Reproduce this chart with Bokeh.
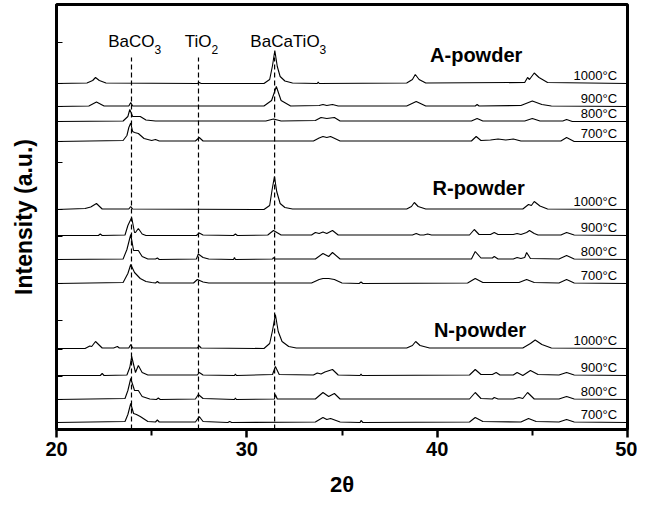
from bokeh.plotting import figure
from bokeh.models import Range1d, FixedTicker, ColumnDataSource
from bokeh.core.properties import value
from bokeh.embed import file_html
from bokeh.resources import INLINE

# ---------------- data ----------------
powders = ["A-powder", "R-powder", "N-powder"]
temps = ["1000°C", "900°C", "800°C", "700°C"]
# vertical stacking offset of each pattern (a.u.)
offsets_A = [346, 323, 308, 288]
offsets_R = [220, 194, 170, 146]
offsets_N = [81, 54, 30, 7]

phase_names = ["BaCO", "TiO", "BaCaTiO"]
phase_subs = ["3", "2", "3"]
phase_2theta = [23.94, 27.46, 31.46]

x_ticks = [20, 30, 40, 50]
x_minor_ticks = [25, 35, 45]
y_ticks = [387, 346, 323, 308, 288, 267, 220, 193, 170, 146, 109, 80, 53, 30]

# A-powder
a1000_x = [20, 21.6, 21.9, 22.05, 22.25, 22.6, 27.4, 27.5, 27.6, 30.9, 31.2, 31.35, 31.47, 31.6, 31.75, 32.0, 32.4, 33.7, 33.75, 33.8, 38.4, 38.7, 38.85, 39.05, 39.4, 44.6, 44.75, 44.85, 45.1, 45.35, 45.8, 50]
a1000_y = [0, 0.5, 3, 6, 3, 0.5, 0, 1, 0, 0, 4, 18, 33, 17, 7, 2.5, 0.5, 0, 1.5, 0, 0.5, 4, 9, 4, 0.5, 1, 6, 4, 10.5, 6, 1, 0]
a900_x = [20, 21.7, 22.1, 22.5, 23.8, 23.9, 24.0, 30.9, 31.3, 31.55, 31.8, 32.3, 33.8, 34.0, 34.2, 34.5, 34.8, 38.4, 38.9, 39.4, 42.0, 42.1, 42.2, 44.4, 45.0, 45.5, 46.0, 50]
a900_y = [0, 0.5, 4.5, 0.5, 0.5, 4, 0.5, 0.5, 6, 20, 6, 0.5, 1, 2, 1, 2, 0.5, 0.5, 5, 0.5, 0.5, 2, 0.5, 1, 5.5, 2, 0.5, 0]
a800_x = [20, 23.5, 23.75, 23.85, 24.0, 24.15, 24.4, 24.7, 25.2, 27.4, 27.6, 31.0, 31.4, 31.8, 33.6, 33.9, 34.2, 34.6, 34.9, 41.8, 42.1, 42.4, 44.6, 45.0, 45.4, 46.6, 46.8, 47.1, 50]
a800_y = [0, 0.5, 5, 12, 5, 5, 5, 1.5, 0.5, 0.5, 0.5, 0.5, 2.5, 0.5, 1, 4, 3, 4, 0.5, 0.5, 3, 0.5, 0.5, 3, 0.5, 0.5, 2, 0, 0]
a700_x = [20, 23.5, 23.7, 23.8, 23.9, 24.0, 24.1, 24.3, 24.6, 25.0, 25.2, 25.4, 27.3, 27.5, 27.7, 33.5, 33.8, 34.0, 34.2, 34.4, 34.9, 41.8, 42.05, 42.3, 42.8, 43.2, 43.6, 44.0, 44.4, 46.5, 46.8, 47.2, 50]
a700_y = [0, 1, 6, 14, 18.5, 10, 9, 8, 3, 1, 2, 0.5, 0.5, 4, 0.5, 0.5, 3.5, 5, 4, 5, 0.5, 0.5, 5, 1, 1.5, 2.5, 1.5, 2.5, 0.5, 0.5, 4, 0, 0]

# R-powder
r1000_x = [20, 21.5, 21.8, 22.1, 22.4, 23.8, 23.9, 24.0, 30.9, 31.2, 31.33, 31.45, 31.57, 31.75, 32.0, 32.4, 38.4, 38.65, 38.8, 39.0, 39.4, 44.5, 44.8, 44.95, 45.1, 45.4, 45.8, 50]
r1000_y = [0, 1, 2.5, 6, 0.5, 0.5, 3, 0.5, 0, 4, 20, 33, 18, 6, 2, 0.5, 0.5, 3, 7, 3, 0.5, 0.5, 5, 4, 8, 3.5, 0.5, 0]
r900_x = [20, 22.2, 22.3, 22.4, 23.6, 23.75, 23.95, 24.1, 24.15, 24.3, 24.5, 24.7, 27.35, 27.5, 27.7, 29.3, 29.4, 29.5, 31.1, 31.4, 31.8, 33.4, 33.6, 33.8, 34.0, 34.2, 34.5, 34.8, 38.7, 38.9, 39.1, 39.3, 39.5, 39.7, 41.7, 41.95, 42.2, 42.8, 43.0, 43.2, 44.0, 44.2, 44.4, 44.7, 44.85, 45.1, 45.3, 46.5, 46.8, 47.2, 50]
r900_y = [0, 0, 1.5, 0, 0.5, 10, 18, 3, 3, 7, 1.5, 0, 0, 2.5, 0.5, 0, 1.5, 0, 0.5, 5, 0.5, 0.5, 3, 2, 3.5, 2, 5, 0.5, 0.5, 2, 0.5, 0.5, 1.5, 0.5, 0.5, 6, 1, 1, 3, 1, 1, 2, 1, 3, 5, 2, 0.5, 0.5, 3, 0.5, 0]
r800_x = [20, 23.5, 23.7, 23.9, 24.05, 24.15, 24.3, 24.5, 24.8, 25.2, 25.3, 25.4, 27.35, 27.45, 27.7, 28.0, 29.3, 29.35, 29.4, 31.35, 31.4, 31.45, 33.6, 34.0, 34.3, 34.5, 34.9, 41.8, 42.0, 42.3, 42.9, 43.0, 43.2, 44.0, 44.2, 44.4, 44.6, 44.7, 44.9, 46.4, 46.8, 47.2, 50]
r800_y = [0, 0.5, 10, 25, 9, 9, 9, 3, 0.5, 0.5, 1.5, 0, 0.5, 5.5, 2, 0.5, 0, 2, 0, 0.5, 2, 0.5, 0.5, 6, 3, 7, 0.5, 0.5, 8, 1.5, 1.5, 3, 0.5, 0.5, 2, 1, 2, 7, 1, 0.5, 4, 0.5, 0]
r700_x = [20, 23.5, 23.75, 23.9, 24.1, 24.4, 24.7, 25.0, 25.2, 25.3, 25.4, 27.2, 27.4, 27.7, 28.0, 33.4, 33.8, 34.0, 34.3, 34.6, 35.0, 35.9, 36.0, 36.1, 41.6, 42.0, 42.4, 44.3, 44.7, 45.1, 46.4, 46.8, 47.2, 50]
r700_y = [0, 1, 10, 19, 11, 5, 2, 1, 0.5, 2, 0.5, 0.5, 4, 1.5, 0.5, 0.5, 4, 5, 5, 4, 0.5, 0, 1.5, 0, 0.5, 5, 1, 1, 4, 1, 0.5, 4, 0.5, 0]

# N-powder
n1000_x = [20, 21.5, 21.75, 21.85, 22.05, 22.4, 23.0, 23.2, 23.3, 23.8, 23.9, 24.0, 27.4, 27.5, 27.6, 30.9, 31.2, 31.35, 31.5, 31.65, 31.85, 32.2, 32.6, 38.4, 38.7, 38.87, 39.1, 39.6, 44.5, 44.9, 45.15, 45.5, 46.0, 50]
n1000_y = [0, 0, 2.5, 2, 7, 0.5, 0.5, 2, 0.5, 0.5, 4, 0.5, 0.5, 2.5, 0.5, 0, 5, 18, 34, 17, 7, 2, 0.5, 0.5, 3, 7, 3, 0.5, 0.5, 5, 8.5, 4, 0.5, 0]
n900_x = [20, 22.3, 22.4, 22.5, 23.7, 23.85, 23.95, 24.15, 24.3, 24.5, 24.8, 27.4, 27.5, 27.7, 29.35, 29.4, 29.45, 31.35, 31.5, 31.7, 33.5, 33.7, 33.9, 34.1, 34.5, 34.8, 35.95, 36.0, 36.05, 41.7, 42.0, 42.3, 42.9, 43.1, 43.3, 44.0, 44.2, 44.5, 44.9, 45.3, 46.4, 46.8, 47.2, 50]
n900_y = [0, 0, 2, 0, 0.5, 8, 19, 3, 10, 3, 0.5, 0.5, 3, 0.5, 0, 1.5, 0, 1, 9, 1, 0.5, 2.5, 1.5, 3.5, 6, 0.5, 0, 1.5, 0, 0.5, 6, 1, 1, 3, 0.5, 0.5, 3, 0, 5, 1, 0.5, 3, 0.5, 0]
n800_x = [20, 23.6, 23.75, 23.9, 24.1, 24.3, 24.5, 24.9, 25.25, 25.35, 25.45, 27.3, 27.45, 27.7, 29.35, 29.4, 29.45, 31.45, 31.5, 31.6, 33.6, 34.0, 34.3, 34.6, 34.9, 41.7, 42.0, 42.3, 42.9, 43.0, 43.2, 44.0, 44.3, 44.5, 44.75, 45.1, 46.4, 46.8, 47.2, 50]
n800_y = [0, 1, 9, 21, 9, 9, 3, 0.5, 0, 1.5, 0, 0.5, 5, 1, 0, 1.5, 0, 0.5, 5, 0.5, 0.5, 7, 3, 6, 0.5, 0.5, 7, 1, 0.5, 2, 0.5, 0.5, 2, 1, 7, 0.5, 0.5, 3, 0.5, 0]
n700_x = [20, 23.6, 23.75, 23.9, 24.05, 24.2, 24.4, 24.8, 25.2, 25.3, 25.4, 27.3, 27.5, 27.7, 29.0, 29.1, 29.2, 33.6, 34.0, 34.2, 34.4, 34.9, 35.95, 36.0, 36.1, 41.7, 42.0, 42.4, 44.4, 44.8, 45.2, 46.4, 46.8, 47.2, 50]
n700_y = [0, 1, 8, 19, 9, 8, 6, 1, 0.5, 2.5, 0.5, 0.5, 6, 1, 0, 1, 0, 0.5, 5, 3, 4, 0.5, 0, 2, 0, 0.5, 5, 1, 0.5, 4, 1, 0.5, 3, 0.5, 0]

patterns = {
    "A-powder": [(a1000_x, a1000_y), (a900_x, a900_y), (a800_x, a800_y), (a700_x, a700_y)],
    "R-powder": [(r1000_x, r1000_y), (r900_x, r900_y), (r800_x, r800_y), (r700_x, r700_y)],
    "N-powder": [(n1000_x, n1000_y), (n900_x, n900_y), (n800_x, n800_y), (n700_x, n700_y)],
}
offsets = {"A-powder": offsets_A, "R-powder": offsets_R, "N-powder": offsets_N}

# ---------------- layout / style ----------------
FONT = "Liberation Sans"
title_pos = {"A-powder": (42.05, 375), "R-powder": (42.18, 242), "N-powder": (42.25, 100)}
temp_label_x = 49.45
phase_label_y = 388
phase_label_dx = [23, 13, 45]   # screen px from dashed line to end of main text
dash_top = 372

p = figure(frame_width=571, frame_height=425,
           min_border_left=56, min_border_right=10, min_border_top=4, min_border_bottom=66,
           x_range=Range1d(20, 50), y_range=Range1d(0, 425),
           output_backend="svg", toolbar_location=None,
           background_fill_color="white", border_fill_color="white")
p.grid.visible = False
p.outline_line_color = "black"
p.outline_line_width = 3

# x axis
p.xaxis.ticker = FixedTicker(ticks=x_ticks, minor_ticks=x_minor_ticks)
p.xaxis.axis_line_width = 3
p.xaxis.major_tick_in = 0
p.xaxis.major_tick_out = 8
p.xaxis.major_tick_line_width = 2.5
p.xaxis.minor_tick_in = 0
p.xaxis.minor_tick_out = 6
p.xaxis.minor_tick_line_width = 2
p.xaxis.major_label_text_font = FONT
p.xaxis.major_label_text_font_style = "bold"
p.xaxis.major_label_text_font_size = "20px"
p.xaxis.major_label_text_color = "black"
p.xaxis.major_label_standoff = 4
p.xaxis.axis_label = "2θ"
p.xaxis.axis_label_text_font = FONT
p.xaxis.axis_label_text_font_style = "bold"
p.xaxis.axis_label_text_font_size = "22px"
p.xaxis.axis_label_text_color = "black"
p.xaxis.axis_label_standoff = 13

# y axis: no labels; small inward ticks drawn as short rays
p.yaxis.ticker = FixedTicker(ticks=[], minor_ticks=[])
p.yaxis.axis_line_width = 3
p.yaxis.axis_label = "Intensity (a.u.)"
p.yaxis.axis_label_text_font = FONT
p.yaxis.axis_label_text_font_style = "bold"
p.yaxis.axis_label_text_font_size = "23px"
p.yaxis.axis_label_text_color = "black"
p.yaxis.axis_label_standoff = 20
p.ray(x=[20] * len(y_ticks), y=y_ticks, length=6, length_units="screen", angle=0,
      line_color="black", line_width=1)

# dashed reference lines
p.segment(x0=phase_2theta, y0=[0] * 3, x1=phase_2theta, y1=[dash_top] * 3,
          line_color="black", line_width=1.2, line_dash="5 3")

# patterns
for powder in powders:
    for (xs, ys), off, temp in zip(patterns[powder], offsets[powder], temps):
        p.line([float(x) for x in xs], [off + y for y in ys], line_color="black", line_width=1.1)
    offs = offsets[powder]
    p.text(x=[temp_label_x] * 4, y=offs, text=temps, text_align="right", text_baseline="bottom",
           y_offset=-1, text_font=value(FONT), text_font_size="13px", text_color="black")
    tx, ty = title_pos[powder]
    p.text(x=[tx], y=[ty], text=[powder], text_align="center", text_baseline="middle",
           text_font=value(FONT), text_font_style="bold", text_font_size="20px", text_color="black")

# phase labels with subscripts
src = ColumnDataSource(dict(x=phase_2theta, y=[phase_label_y] * 3, name=phase_names,
                            sub=phase_subs, dx=phase_label_dx))
p.text(x="x", y="y", text="name", x_offset="dx", text_align="right", text_baseline="middle",
       text_font=value(FONT), text_font_size="17px", text_color="black", source=src)
p.text(x="x", y="y", text="sub", x_offset="dx", y_offset=8, text_align="left", text_baseline="middle",
       text_font=value(FONT), text_font_size="12px", text_color="black", source=src)

open("out.html", "w").write(file_html(p, INLINE))
